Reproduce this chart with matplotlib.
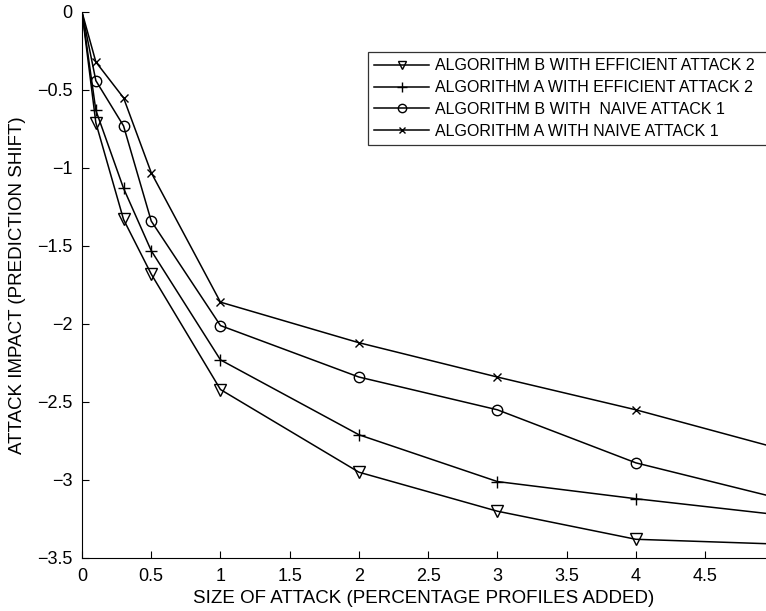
import matplotlib
matplotlib.use("Agg")
import matplotlib.pyplot as plt

plt.rcParams["font.family"] = ["Liberation Sans", "DejaVu Sans"]

attack_size = [0, 0.1, 0.3, 0.5, 1, 2, 3, 4, 5]
b_efficient = [0, -0.71, -1.33, -1.68, -2.42, -2.95, -3.20, -3.38, -3.41]
a_efficient = [0, -0.63, -1.13, -1.53, -2.23, -2.71, -3.01, -3.12, -3.22]
b_naive = [0, -0.44, -0.73, -1.34, -2.01, -2.34, -2.55, -2.89, -3.11]
a_naive = [0, -0.32, -0.55, -1.03, -1.86, -2.12, -2.34, -2.55, -2.79]

labels = [
    "ALGORITHM B WITH EFFICIENT ATTACK 2",
    "ALGORITHM A WITH EFFICIENT ATTACK 2",
    "ALGORITHM B WITH  NAIVE ATTACK 1",
    "ALGORITHM A WITH NAIVE ATTACK 1",
]
x_ticks = [0, 0.5, 1, 1.5, 2, 2.5, 3, 3.5, 4, 4.5]
y_ticks = [0, -0.5, -1, -1.5, -2, -2.5, -3, -3.5]

fig = plt.figure(figsize=(7.66, 6.11), dpi=100)
ax = fig.add_axes([82 / 766, 53 / 611, 1 - 82 / 766, 546 / 611])

series = [b_efficient, a_efficient, b_naive, a_naive]
markers = [("v", 8, "none"), ("+", 9, "k"), ("o", 7.5, "none"), ("x", 6, "k")]
for ys, (m, ms, fc), lab in zip(series, markers, labels):
    # no marker at the origin
    ax.plot(attack_size, ys, color="k", lw=1.1, marker=m, ms=ms,
            mfc=fc, mec="k", mew=1.0, label=lab, markevery=slice(1, None))

ax.set_xlim(0, 4.94)
ax.set_ylim(-3.5, 0)
ax.set_xticks(x_ticks)
ax.set_xticklabels([f"{t:g}" for t in x_ticks])
ax.set_yticks(y_ticks)
ax.set_yticklabels([f"{t:g}".replace("-", "\u2212") for t in y_ticks])
ax.tick_params(direction="in", length=5, labelsize=13, width=0.8, pad=7)
ax.spines["top"].set_visible(False)
ax.spines["right"].set_visible(False)
for s in ("left", "bottom"):
    ax.spines[s].set_linewidth(0.8)

ax.set_xlabel("SIZE OF ATTACK (PERCENTAGE PROFILES ADDED)", fontsize=13.5, labelpad=4)
ax.set_ylabel("ATTACK IMPACT (PREDICTION SHIFT)", fontsize=13.5, labelpad=8)

leg = ax.legend(loc="upper left", bbox_to_anchor=(368 / 766, 1 - 52 / 611 - 0.01, 0.56, 0.01),
                bbox_transform=fig.transFigure, mode="expand", fontsize=11.5,
                frameon=True, fancybox=False, edgecolor="k", handlelength=3.4,
                handletextpad=0.4, markerscale=0.8,
                borderaxespad=0, labelspacing=0.42, borderpad=0.4)
leg.get_frame().set_linewidth(0.9)

fig.savefig("out.png", dpi=100)
